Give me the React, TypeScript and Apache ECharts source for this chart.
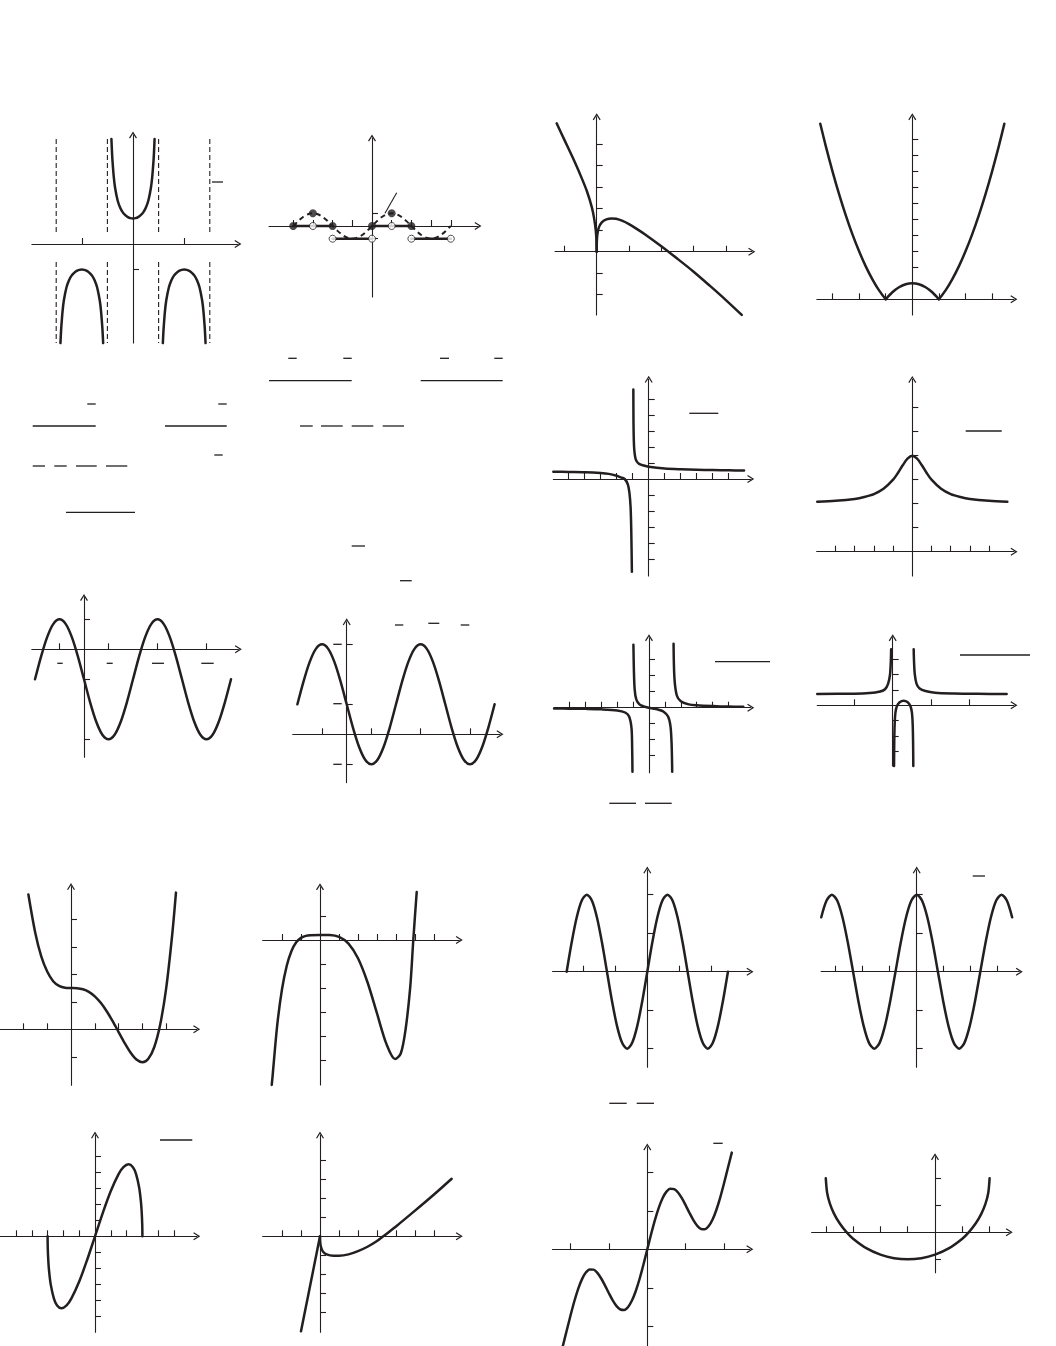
import React, { useEffect, useRef } from 'react';
import * as echarts from 'echarts';

type Pt = [number, number];
const INK = '#231f20';

// ---------------- DATA ----------------
// 1: sec-like curve with asymptotes
const secCenter: Pt[] = [[-0.843, 4.1], [-0.82, 3.58], [-0.8, 3.24], [-0.75, 2.61], [-0.7, 2.2], [-0.6, 1.7], [-0.5, 1.414], [-0.4, 1.236], [-0.3, 1.126], [-0.2, 1.051], [-0.1, 1.012], [0, 1], [0.1, 1.012], [0.2, 1.051], [0.3, 1.126], [0.4, 1.236], [0.5, 1.414], [0.6, 1.7], [0.7, 2.2], [0.75, 2.61], [0.8, 3.24], [0.82, 3.58], [0.843, 4.1]];
const secLeftArc: Pt[] = [[-2.834, -3.87], [-2.82, -3.58], [-2.8, -3.24], [-2.75, -2.61], [-2.7, -2.2], [-2.6, -1.7], [-2.5, -1.414], [-2.4, -1.236], [-2.3, -1.126], [-2.2, -1.051], [-2.1, -1.012], [-2, -1], [-1.9, -1.012], [-1.8, -1.051], [-1.7, -1.126], [-1.6, -1.236], [-1.5, -1.414], [-1.4, -1.7], [-1.3, -2.2], [-1.25, -2.61], [-1.2, -3.24], [-1.18, -3.58], [-1.166, -3.87]];
const secRightArc: Pt[] = [[1.166, -3.87], [1.18, -3.58], [1.2, -3.24], [1.25, -2.61], [1.3, -2.2], [1.4, -1.7], [1.5, -1.414], [1.6, -1.236], [1.7, -1.126], [1.8, -1.051], [1.9, -1.012], [2, -1], [2.1, -1.012], [2.2, -1.051], [2.3, -1.126], [2.4, -1.236], [2.5, -1.414], [2.6, -1.7], [2.7, -2.2], [2.75, -2.61], [2.8, -3.24], [2.82, -3.58], [2.834, -3.87]];
const asymptoteX = [-3, -1, 1, 3];
const asymptoteSpans: Pt[] = [[4.1, 0.35], [-0.7, -3.87]];

// 2: dashed wave and step function
const waveDashed: Pt[] = [[-4, 0], [-3.75, 0.383], [-3.5, 0.707], [-3.25, 0.924], [-3, 1], [-2.75, 0.924], [-2.5, 0.707], [-2.25, 0.383], [-2, 0], [-1.75, -0.383], [-1.5, -0.707], [-1.25, -0.924], [-1, -1], [-0.75, -0.924], [-0.5, -0.707], [-0.25, -0.383], [0, 0], [0.25, 0.383], [0.5, 0.707], [0.75, 0.924], [1, 1], [1.25, 0.924], [1.5, 0.707], [1.75, 0.383], [2, 0], [2.25, -0.383], [2.5, -0.707], [2.75, -0.924], [3, -1], [3.25, -0.924], [3.5, -0.707], [3.75, -0.383], [4, 0]];
const stepSegments: Pt[][] = [[[-4, 0], [-2, 0]], [[-2, -1], [0, -1]], [[0, 0], [2, 0]], [[2, -1], [4, -1]]];
const filledDots: Pt[] = [[-4, 0], [-3, 1], [-2, 0], [0, 0], [1, 1], [2, 0]];
const openDots: Pt[] = [[-3, 0], [-2, -1], [0, -1], [1, 0], [2, -1], [4, -1]];

// 3: cusp curve
const cuspLeft: Pt[] = [[-1.24, 5.97], [-1.0, 5.2], [-0.75, 4.4], [-0.5, 3.55], [-0.3, 2.8], [-0.15, 2.06], [-0.08, 1.55], [-0.03, 1.0], [-0.01, 0.6], [0, 0]];
const cuspRight: Pt[] = [[0, 0], [0.004, 0.45], [0.02, 0.8], [0.06, 1.1], [0.15, 1.35], [0.3, 1.5], [0.46, 1.55], [0.6, 1.53], [0.8, 1.43], [1, 1.28], [1.25, 1.05], [1.5, 0.8], [2, 0.25], [2.5, -0.33], [3, -0.93], [3.5, -1.58], [4, -2.25], [4.49, -2.94]];

// 4: |x^2 - 1|
const absLeft: Pt[] = [[-3.46, 10.97], [-3.25, 9.56], [-3, 8], [-2.75, 6.56], [-2.5, 5.25], [-2.25, 4.06], [-2, 3], [-1.75, 2.06], [-1.5, 1.25], [-1.25, 0.56], [-1, 0]];
const absMid: Pt[] = [[-1, 0], [-0.75, 0.44], [-0.5, 0.75], [-0.25, 0.94], [0, 1], [0.25, 0.94], [0.5, 0.75], [0.75, 0.44], [1, 0]];
const absRight: Pt[] = [[1, 0], [1.25, 0.56], [1.5, 1.25], [1.75, 2.06], [2, 3], [2.25, 4.06], [2.5, 5.25], [2.75, 6.56], [3, 8], [3.25, 9.56], [3.46, 10.97]];

// 5: hyperbola
const hypLeft: Pt[] = [[-5.96, 0.46], [-5, 0.44], [-4, 0.42], [-3, 0.37], [-2.5, 0.32], [-2, 0.2], [-1.75, 0.1], [-1.5, 0], [-1.3, -0.35], [-1.2, -0.9], [-1.13, -1.8], [-1.09, -3.2], [-1.05, -5.8]];
const hypRight: Pt[] = [[-0.96, 5.6], [-0.95, 3.5], [-0.93, 2.4], [-0.9, 1.8], [-0.84, 1.35], [-0.75, 1.1], [-0.6, 0.95], [-0.3, 0.84], [0, 0.77], [1, 0.66], [2, 0.61], [3, 0.58], [4, 0.56], [5, 0.54], [5.96, 0.53]];

// 6: bell
const bell: Pt[] = [[-4.95, 2.08], [-4, 2.12], [-3, 2.2], [-2.5, 2.28], [-2, 2.4], [-1.5, 2.62], [-1, 3], [-0.75, 3.28], [-0.5, 3.6], [-0.25, 3.88], [0, 4], [0.25, 3.88], [0.5, 3.6], [0.75, 3.28], [1, 3], [1.5, 2.62], [2, 2.4], [2.5, 2.28], [3, 2.2], [4, 2.12], [4.95, 2.08]];

// 7 & 8: sinusoids (x in quarter-period units)
const sineA: Pt[] = [[-2, -1], [-1.75, -0.234], [-1.5, 0.414], [-1.25, 0.848], [-1, 1], [-0.75, 0.848], [-0.5, 0.414], [-0.25, -0.234], [0, -1], [0.25, -1.766], [0.5, -2.414], [0.75, -2.848], [1, -3], [1.25, -2.848], [1.5, -2.414], [1.75, -1.766], [2, -1], [2.25, -0.234], [2.5, 0.414], [2.75, 0.848], [3, 1], [3.25, 0.848], [3.5, 0.414], [3.75, -0.234], [4, -1], [4.25, -1.766], [4.5, -2.414], [4.75, -2.848], [5, -3], [5.25, -2.848], [5.5, -2.414], [5.75, -1.766], [6, -1]];
const sineB: Pt[] = [[-2, 1], [-1.75, 1.766], [-1.5, 2.414], [-1.25, 2.848], [-1, 3], [-0.75, 2.848], [-0.5, 2.414], [-0.25, 1.766], [0, 1], [0.25, 0.234], [0.5, -0.414], [0.75, -0.848], [1, -1], [1.25, -0.848], [1.5, -0.414], [1.75, 0.234], [2, 1], [2.25, 1.766], [2.5, 2.414], [2.75, 2.848], [3, 3], [3.25, 2.848], [3.5, 2.414], [3.75, 1.766], [4, 1], [4.25, 0.234], [4.5, -0.414], [4.75, -0.848], [5, -1], [5.25, -0.848], [5.5, -0.414], [5.75, 0.234], [6, 1]];

// 9: two vertical asymptotes, y -> 0
const ratLeft: Pt[] = [[-5.97, -0.05], [-5, -0.058], [-4, -0.073], [-3, -0.1], [-2, -0.17], [-1.5, -0.3], [-1.25, -0.545], [-1.1, -1.27], [-1.06, -2.47], [-1.04, -4.0]];
const ratMid: Pt[] = [[-0.98, 3.93], [-0.95, 2.33], [-0.9, 1.13], [-0.8, 0.52], [-0.6, 0.21], [-0.3, 0.07], [0, 0], [0.3, -0.06], [0.6, -0.13], [0.9, -0.24], [1.2, -0.55], [1.35, -1.15], [1.42, -2.2], [1.46, -4.0]];
const ratRight: Pt[] = [[1.545, 4.0], [1.6, 1.85], [1.75, 0.76], [2, 0.4], [2.5, 0.21], [3, 0.15], [4, 0.1], [5, 0.07], [5.93, 0.06]];

// 10: horizontal asymptote 0.74
const rat2Left: Pt[] = [[-1.96, 0.74], [-1.0, 0.76], [-0.6, 0.8], [-0.35, 0.88], [-0.2, 1.05], [-0.12, 1.4], [-0.07, 2.0], [-0.05, 2.8], [-0.04, 3.66]];
const rat2Mid: Pt[] = [[0.035, -3.97], [0.04, -2.5], [0.05, -1.3], [0.07, -0.5], [0.11, -0.05], [0.18, 0.2], [0.285, 0.3], [0.39, 0.2], [0.46, -0.05], [0.5, -0.5], [0.52, -1.3], [0.53, -2.5], [0.535, -3.97]];
const rat2Right: Pt[] = [[0.545, 3.66], [0.555, 2.8], [0.575, 2.0], [0.62, 1.4], [0.7, 1.1], [0.85, 0.93], [1.1, 0.82], [1.6, 0.77], [2.2, 0.75], [2.96, 0.74]];

// 11: quartic with flat inflection
const quarticA: Pt[] = [[-1.79, 4.9], [-1.5, 3.5], [-1.25, 2.65], [-1, 2.1], [-0.75, 1.75], [-0.5, 1.58], [-0.25, 1.51], [0, 1.5], [0.25, 1.494], [0.5, 1.456], [0.75, 1.363], [1, 1.2], [1.25, 0.963], [1.5, 0.656], [1.75, 0.294], [2, -0.1], [2.25, -0.493], [2.5, -0.844], [2.75, -1.1], [3, -1.2], [3.25, -1.074], [3.5, -0.644], [3.75, 0.181], [4, 1.5], [4.25, 3.42], [4.41, 4.97]];

// 12: quintic
const quinticB: Pt[] = [[-2.54, -6.04], [-2.5, -5.71], [-2.25, -3.54], [-2, -2.05], [-1.75, -1.07], [-1.5, -0.455], [-1.25, -0.098], [-1, 0.089], [-0.75, 0.173], [-0.5, 0.203], [0, 0.21], [0.5, 0.204], [1, 0.129], [1.5, -0.148], [2, -0.76], [2.5, -1.76], [3, -3.06], [3.5, -4.34], [3.95, -4.96], [4.25, -4.73], [4.5, -3.75], [4.75, -1.95], [4.91, 0], [5.09, 2.0]];

// 13: 2 sin
const sineC: Pt[] = [[-2.52, 0], [-2.3625, 0.765], [-2.205, 1.414], [-2.0475, 1.848], [-1.89, 2], [-1.7325, 1.848], [-1.575, 1.414], [-1.4175, 0.765], [-1.26, 0], [-1.1025, -0.765], [-0.945, -1.414], [-0.7875, -1.848], [-0.63, -2], [-0.4725, -1.848], [-0.315, -1.414], [-0.1575, -0.765], [0, 0], [0.1575, 0.765], [0.315, 1.414], [0.4725, 1.848], [0.63, 2], [0.7875, 1.848], [0.945, 1.414], [1.1025, 0.765], [1.26, 0], [1.4175, -0.765], [1.575, -1.414], [1.7325, -1.848], [1.89, -2], [2.0475, -1.848], [2.205, -1.414], [2.3625, -0.765], [2.52, 0]];

// 14: 2 cos
const cosD: Pt[] = [[-3.534, 1.414], [-3.338, 1.848], [-3.142, 2], [-2.945, 1.848], [-2.749, 1.414], [-2.553, 0.765], [-2.356, 0], [-2.16, -0.765], [-1.963, -1.414], [-1.767, -1.848], [-1.571, -2], [-1.374, -1.848], [-1.178, -1.414], [-0.982, -0.765], [-0.785, 0], [-0.589, 0.765], [-0.393, 1.414], [-0.196, 1.848], [0, 2], [0.196, 1.848], [0.393, 1.414], [0.589, 0.765], [0.785, 0], [0.982, -0.765], [1.178, -1.414], [1.374, -1.848], [1.571, -2], [1.767, -1.848], [1.963, -1.414], [2.16, -0.765], [2.356, 0], [2.553, 0.765], [2.749, 1.414], [2.945, 1.848], [3.142, 2], [3.338, 1.848], [3.534, 1.414]];

// 15: x*sqrt(9-x^2)
const rootCurve: Pt[] = [[-3, 0], [-2.99, -0.73], [-2.95, -1.61], [-2.9, -2.23], [-2.8, -3.02], [-2.6, -3.89], [-2.4, -4.32], [-2.12, -4.5], [-1.8, -4.32], [-1.5, -3.9], [-1, -2.83], [-0.5, -1.48], [0, 0], [0.5, 1.48], [1, 2.83], [1.5, 3.9], [1.8, 4.32], [2.12, 4.5], [2.4, 4.32], [2.6, 3.89], [2.8, 3.02], [2.9, 2.23], [2.95, 1.61], [2.99, 0.73], [3, 0]];

// 16: cusp at origin
const dipLeft: Pt[] = [[-1, -5], [-0.75, -3.75], [-0.5, -2.5], [-0.25, -1.25], [-0.1, -0.5], [-0.03, -0.15], [0, 0]];
const dipRight: Pt[] = [[0, 0], [0.01, -0.3], [0.05, -0.55], [0.15, -0.8], [0.35, -0.95], [0.7, -1.02], [1.0, -1.02], [1.5, -0.95], [2, -0.78], [2.5, -0.55], [3, -0.25], [3.33, 0], [4, 0.52], [5, 1.35], [6, 2.2], [6.93, 3.03]];

// 17: x + sin 3x
const wiggle: Pt[] = [[-2.2, -2.512], [-2.1, -2.117], [-2, -1.721], [-1.9, -1.349], [-1.8, -1.027], [-1.7, -0.774], [-1.6, -0.604], [-1.5, -0.523], [-1.4, -0.528], [-1.3, -0.612], [-1.2, -0.758], [-1.1, -0.942], [-1, -1.141], [-0.9, -1.327], [-0.8, -1.476], [-0.7, -1.563], [-0.6, -1.574], [-0.5, -1.498], [-0.4, -1.332], [-0.3, -1.083], [-0.2, -0.765], [-0.1, -0.396], [0, 0], [0.1, 0.396], [0.2, 0.765], [0.3, 1.083], [0.4, 1.332], [0.5, 1.498], [0.6, 1.574], [0.7, 1.563], [0.8, 1.476], [0.9, 1.327], [1, 1.141], [1.1, 0.942], [1.2, 0.758], [1.3, 0.612], [1.4, 0.528], [1.5, 0.523], [1.6, 0.604], [1.7, 0.774], [1.8, 1.027], [1.9, 1.349], [2, 1.721], [2.1, 2.117], [2.2, 2.512]];

// 18: lower semicircle
const semicircle: Pt[] = [[-4, 2], [-3.95, 1.455], [-3.85, 1.063], [-3.7, 0.692], [-3.5, 0.342], [-3.25, 0.016], [-3, -0.236], [-2.5, -0.598], [-2, -0.828], [-1.5, -0.958], [-1, -1], [-0.5, -0.958], [0, -0.828], [0.5, -0.598], [1, -0.236], [1.25, 0.016], [1.5, 0.342], [1.7, 0.692], [1.85, 1.063], [1.95, 1.455], [2, 2]];

// tick values for each panel
const xTickValues: number[][] = [
  [-2, 2], [-4, -3, -2, -1, 1, 2, 3, 4], [-1, 1, 2, 3, 4], [-3, -2, -1, 1, 2, 3],
  [-5, -4, -3, -2, -1, 1, 2, 3, 4, 5], [-4, -3, -2, -1, 1, 2, 3, 4],
  [-1, 1, 3, 5], [-1, 1, 3, 5],
  [-5, -4, -3, -2, -1, 1, 2, 3, 4, 5], [-1, 1, 2],
  [-2, -1, 1, 2, 3, 4], [-2, -1, 1, 2, 3, 4, 5, 6],
  [-2, -1, 1, 2], [-3, -2, -1, 1, 2, 3],
  [-5, -4, -3, -2, -1, 1, 2, 3, 4, 5], [-2, -1, 1, 2, 3, 4, 5, 6],
  [-2, -1, 1, 2], [-4, -3, -2, -1, 1, 2],
];
const yTickValues: number[][] = [
  [-1], [-1, 1], [-2, -1, 1, 2, 3, 4, 5], [1, 2, 3, 4, 5, 6, 7, 8, 9, 10],
  [-5, -4, -3, -2, -1, 1, 2, 3, 4, 5], [1, 2, 3, 4, 5, 6],
  [-3, -1, 1], [-1, 1, 3],
  [-3, -2, -1, 1, 2, 3], [-3, -2, -1, 1, 2, 3],
  [-1, 1, 2, 3, 4], [-5, -4, -3, -2, -1, 1],
  [-2, -1, 1, 2], [-2, -1, 1, 2],
  [-5, -4, -3, -2, -1, 1, 2, 3, 4, 5], [-4, -3, -2, -1, 1, 2, 3, 4],
  [-2, -1, 1, 2], [-1, 1, 2],
];

// ---------------- LAYOUT ----------------
// origin (px), px per unit, axis extents
const panels = [
  { ox: 133, oy: 244, ux: 25.6, uy: 25.6, x: [-3.95, 4.1], y: [-3.87, 4.26] },
  { ox: 372, oy: 226, ux: 19.7, uy: 12.7, x: [-5.23, 5.38], y: [-5.59, 6.93] },
  { ox: 596.7, oy: 251.7, ux: 32.3, uy: 21.5, x: [-1.29, 4.8], y: [-2.94, 6.28] },
  { ox: 912.3, oy: 299.3, ux: 26.6, uy: 16, x: [-3.59, 3.82], y: [-0.98, 11.41] },
  { ox: 648.7, oy: 479, ux: 16, uy: 16, x: [-5.96, 6.375], y: [-6.06, 6.23] },
  { ox: 912.3, oy: 551.7, ux: 19.2, uy: 24, x: [-4.98, 5.3], y: [-1.01, 7.18] },
  { ox: 84, oy: 649.3, ux: 24.5, uy: 30, x: [-2.13, 6.3], y: [-3.6, 1.73] },
  { ox: 346.7, oy: 734.3, ux: 24.65, uy: 30, x: [-2.19, 6.22], y: [-1.61, 3.75] },
  { ox: 649, oy: 707.7, ux: 15.9, uy: 16, x: [-5.97, 6.4], y: [-4.06, 4.375] },
  { ox: 892.7, oy: 705.3, ux: 38.5, uy: 15.3, x: [-1.96, 3.15], y: [-3.97, 4.42] },
  { ox: 71, oy: 1029.3, ux: 23.8, uy: 27.5, x: [-2.98, 5.28], y: [-2.03, 5.19] },
  { ox: 320, oy: 940, ux: 19, uy: 24, x: [-3.02, 7.33], y: [-6.04, 2.22] },
  { ox: 647.3, oy: 971.7, ux: 32, uy: 38.5, x: [-2.96, 3.21], y: [-2.48, 2.64] },
  { ox: 916.7, oy: 971.7, ux: 27, uy: 38.5, x: [-3.54, 3.8], y: [-2.48, 2.64] },
  { ox: 95, oy: 1236.3, ux: 15.8, uy: 16, x: [-6.01, 6.44], y: [-6.0, 6.33] },
  { ox: 320, oy: 1236.3, ux: 19, uy: 19, x: [-3.02, 7.33], y: [-5.05, 5.33] },
  { ox: 647.3, oy: 1249.3, ux: 38.4, uy: 38.5, x: [-2.47, 2.67], y: [-2.51, 2.66] },
  { ox: 935, oy: 1232.3, ux: 27.3, uy: 27, x: [-4.52, 2.72], y: [-1.5, 2.8] },
];

const curves: { p: number; d: Pt[] }[] = [
  { p: 0, d: secCenter }, { p: 0, d: secLeftArc }, { p: 0, d: secRightArc },
  { p: 2, d: cuspLeft }, { p: 2, d: cuspRight },
  { p: 3, d: absLeft }, { p: 3, d: absMid }, { p: 3, d: absRight },
  { p: 4, d: hypLeft }, { p: 4, d: hypRight },
  { p: 5, d: bell },
  { p: 6, d: sineA }, { p: 7, d: sineB },
  { p: 8, d: ratLeft }, { p: 8, d: ratMid }, { p: 8, d: ratRight },
  { p: 9, d: rat2Left }, { p: 9, d: rat2Mid }, { p: 9, d: rat2Right },
  { p: 10, d: quarticA }, { p: 11, d: quinticB },
  { p: 12, d: sineC }, { p: 13, d: cosD },
  { p: 14, d: rootCurve }, { p: 15, d: dipLeft }, { p: 15, d: dipRight },
  { p: 16, d: wiggle }, { p: 17, d: semicircle },
];

// leftover fraction bars / marks from the stripped text: [x1, x2, y]
const textBars: [number, number, number][] = [
  [212, 223, 182],
  [288.3, 296.7, 358.3], [343.3, 351.7, 358.3], [440, 449, 358.3], [494.3, 502.7, 358.3],
  [269, 351.7, 380.7], [420.7, 502.7, 380.7],
  [87.3, 95.7, 404], [218.3, 226.7, 404],
  [32.7, 95.7, 426], [165, 226.7, 426],
  [300, 312.7, 426], [321, 342.7, 426], [351.7, 373.3, 426], [382.7, 404, 426],
  [214.3, 222.7, 455],
  [32.7, 45, 466], [54.3, 66.7, 466], [76, 96.7, 466], [106, 127.3, 466],
  [66, 135, 512.3], [351.7, 365, 546], [400, 411.7, 580.7],
  [57.3, 62.7, 663.3], [106.7, 112.7, 663.3], [152, 164, 663.3], [201.3, 213.7, 663.3],
  [395, 403.3, 625], [428.3, 439.3, 623.3], [460.7, 469.3, 625],
  [333.3, 341.7, 644.3], [333.3, 341.7, 703.7], [333.3, 341.7, 764.3],
  [689.3, 718.3, 413.3], [965.7, 1001.7, 431],
  [715, 770, 661.7], [609.3, 636, 803.3], [645, 671.7, 803.3],
  [960, 1030, 655],
  [609.3, 626.7, 1103.3], [636.7, 654, 1103.3],
  [972.7, 985, 876], [160, 192.3, 1140], [713.3, 722.7, 1143.3],
];

const ARROW = 'path://M5,0L10,8L8.7,8.8L5,2.8L1.3,8.8L0,8Z';

function axisCfg(i: number, ext: number[], ticks: number[]) {
  return {
    gridIndex: i,
    type: 'value',
    min: ext[0],
    max: ext[1],
    axisLine: {
      show: true,
      onZero: true,
      symbol: ['none', ARROW],
      symbolSize: [8, 7],
      lineStyle: { color: INK, width: 1.1 },
    },
    axisTick: {
      show: true,
      inside: true,
      length: 6,
      customValues: ticks,
      lineStyle: { color: INK, width: 1.1 },
    },
    axisLabel: { show: false },
    splitLine: { show: false },
  };
}

function buildOption() {
  const grid: any[] = [];
  const xAxis: any[] = [];
  const yAxis: any[] = [];
  const series: any[] = [];
  panels.forEach((p, i) => {
    grid.push({
      left: p.ox + p.x[0] * p.ux,
      top: p.oy - p.y[1] * p.uy,
      width: (p.x[1] - p.x[0]) * p.ux,
      height: (p.y[1] - p.y[0]) * p.uy,
      containLabel: false,
      outerBoundsMode: 'none',
    });
    xAxis.push(axisCfg(i, p.x, xTickValues[i]));
    yAxis.push(axisCfg(i, p.y, yTickValues[i]));
  });

  const line = (p: number, d: Pt[], extra: any = {}) => ({
    type: 'line',
    xAxisIndex: p,
    yAxisIndex: p,
    data: d,
    showSymbol: false,
    symbol: 'none',
    smooth: 0.3,
    clip: false,
    silent: true,
    z: 3,
    lineStyle: { color: INK, width: 2.5, cap: 'round', join: 'round' },
    ...extra,
  });

  curves.forEach((c) => series.push(line(c.p, c.d)));

  // asymptotes panel 0
  asymptoteX.forEach((x) =>
    asymptoteSpans.forEach((s) =>
      series.push(
        line(0, [[x, s[0]], [x, s[1]]], {
          smooth: false,
          lineStyle: { color: INK, width: 1.1, type: [5, 3] },
        })
      )
    )
  );

  // panel 1: dashed wave + step function + dots
  series.push(
    line(1, waveDashed, {
      lineStyle: { color: INK, width: 2, type: [5, 4] },
    })
  );
  stepSegments.forEach((s) => series.push(line(1, s, { smooth: false })));
  series.push({
    type: 'scatter',
    xAxisIndex: 1,
    yAxisIndex: 1,
    data: filledDots,
    symbolSize: 8,
    itemStyle: { color: INK },
    z: 5,
    silent: true,
    clip: false,
  });
  series.push({
    type: 'scatter',
    xAxisIndex: 1,
    yAxisIndex: 1,
    data: openDots,
    symbolSize: 7,
    itemStyle: { color: '#ffffff', borderColor: INK, borderWidth: 1 },
    z: 5,
    silent: true,
    clip: false,
  });

  const graphic: any[] = textBars.map((b) => ({
    type: 'line',
    silent: true,
    shape: { x1: b[0], y1: b[2], x2: b[1], y2: b[2] },
    style: { stroke: INK, lineWidth: 1.3 },
  }));
  graphic.push({
    type: 'line',
    silent: true,
    shape: { x1: 385, y1: 213.3, x2: 396.7, y2: 192.7 },
    style: { stroke: INK, lineWidth: 1.1 },
  });

  return {
    animation: false,
    backgroundColor: '#ffffff',
    grid,
    xAxis,
    yAxis,
    series,
    graphic,
  };
}

export default function App() {
  const ref = useRef<HTMLDivElement | null>(null);
  useEffect(() => {
    if (!ref.current) return;
    const chart = echarts.init(ref.current, undefined, { renderer: 'svg' });
    chart.setOption(buildOption() as any);
    return () => chart.dispose();
  }, []);
  return (
    <div
      ref={ref}
      style={{ position: 'absolute', left: 0, top: 0, width: 1056, height: 1346, background: '#fff' }}
    />
  );
}
